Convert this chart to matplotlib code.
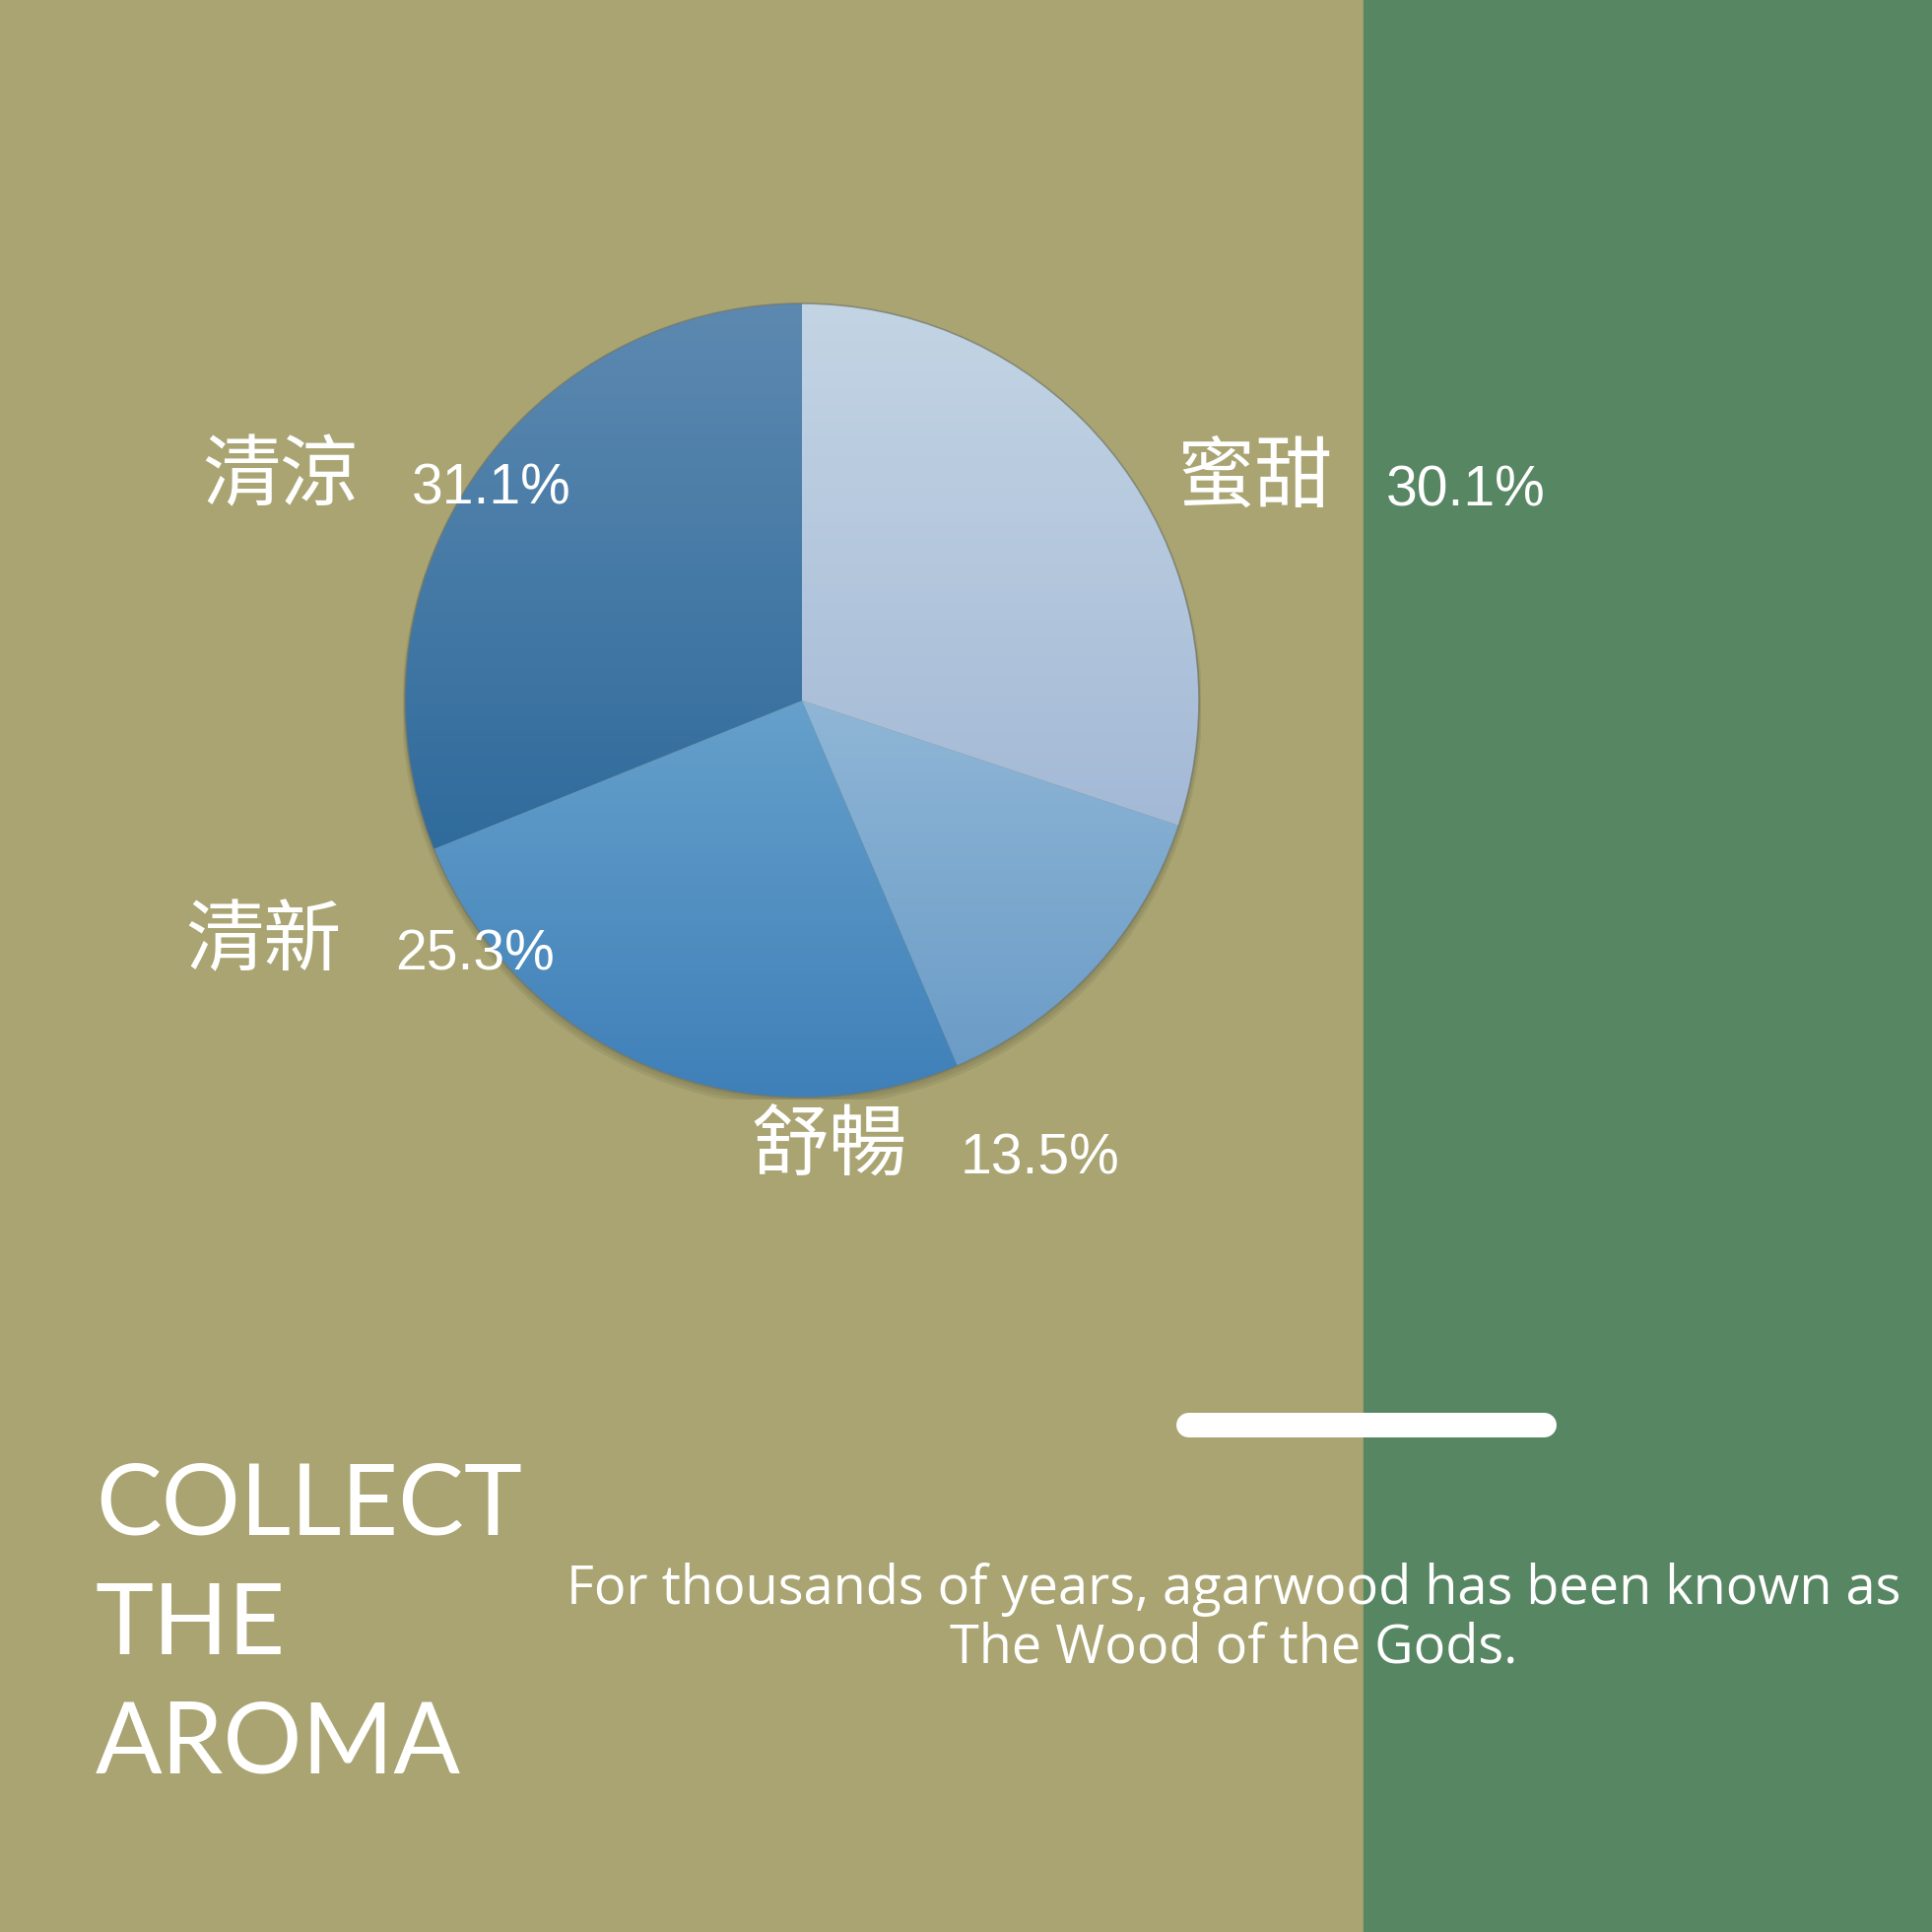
import numpy as np
import matplotlib
matplotlib.use('Agg')
import matplotlib.pyplot as plt
from matplotlib.colors import to_rgb
from matplotlib.patches import Rectangle, Circle

# ---- data ----
labels = ['蜜甜', '舒暢', '清新', '清涼']
values = [30.1, 13.5, 25.3, 31.1]
top_colors = ['#c3d5e4', '#8fb6d6', '#66a0cb', '#5d89b0']
bottom_colors = ['#a4b9d6', '#6b9cc7', '#3f80b9', '#2f6b9c']
title_lines = ['COLLECT', 'THE', 'AROMA']
body_lines = ['For thousands of years, agarwood has been known as',
              'The Wood of the Gods.']

# ---- layout (pixels) ----
W = H = 1961
split_x = 1384
cx, cy, r = 814, 711, 405
label_pos = [(1194, 486), (762, 1165), (188, 957), (205, 485)]
pct_offset = (213, 27)

fig = plt.figure(figsize=(W / 100, H / 100), dpi=100)
bg = fig.add_axes([0, 0, 1, 1])
bg.set_xlim(0, W)
bg.set_ylim(H, 0)
bg.axis('off')
bg.add_patch(Rectangle((0, 0), split_x, H, color='#a9a472', zorder=0))
bg.add_patch(Rectangle((split_x, 0), W - split_x, H, color='#578663', zorder=0))

# pie axes
ax = fig.add_axes([(cx - r) / W, 1 - (cy + r) / H, 2 * r / W, 2 * r / H])
ax.set_zorder(2)
ax.patch.set_alpha(0)
# soft shadow
for i, a in enumerate([0.10, 0.10, 0.10]):
    ax.add_patch(Circle((0.0, -0.008 - 0.004 * i), 1.0 + 0.004 * i,
                        facecolor='#4a4a30', edgecolor='none', alpha=a, zorder=0))
wedges, _ = ax.pie(values, startangle=90, counterclock=False, radius=1,
                   wedgeprops=dict(edgecolor='none', linewidth=0))
for w, tc, bc in zip(wedges, top_colors, bottom_colors):
    w.set_facecolor('none')
    v = w.get_path().vertices
    xmin, xmax = v[:, 0].min(), v[:, 0].max()
    ymin, ymax = v[:, 1].min(), v[:, 1].max()
    t = np.linspace(0, 1, 256)[:, None]
    grad = (1 - t) * np.array(to_rgb(tc)) + t * np.array(to_rgb(bc))
    im = ax.imshow(grad[:, None, :], extent=(xmin, xmax, ymin, ymax),
                   origin='upper', aspect='auto', zorder=1, interpolation='bilinear')
    im.set_clip_path(w)
ax.add_patch(Circle((0, 0), 1.0, fill=False, edgecolor='#737868',
                    linewidth=1.2, alpha=0.7, zorder=3))
ax.set_xlim(-1.005, 1.005)
ax.set_ylim(-1.005, 1.005)
ax.set_aspect('auto')
ax.axis('off')

# labels
for lab, val, (lx, ly) in zip(labels, values, label_pos):
    bg.text(lx, ly, lab, family=['Noto Sans CJK TC', 'DejaVu Sans'],
            fontsize=57, color='white', ha='left', va='center', zorder=5)
    fig.text((lx + pct_offset[0]) / W, 1 - (ly + pct_offset[1]) / H,
             f'{val:.1f}%', family='Liberation Sans', fontsize=41,
             color='white', ha='left', va='baseline', zorder=10)

# white bar
bg.plot([1206, 1567], [1446, 1446], color='white', linewidth=18,
        solid_capstyle='round', zorder=3)

# title
for line, by in zip(title_lines, [1558, 1679, 1800]):
    bg.text(97, by, line, family='Lato', fontsize=72, color='white',
            ha='left', va='baseline', zorder=3)

# body
for line, by in zip(body_lines, [1628, 1688]):
    bg.text(1252, by, line, family='Open Sans', fontsize=39, color='white',
            ha='center', va='baseline', zorder=3)

fig.savefig('out.png', dpi=100)
